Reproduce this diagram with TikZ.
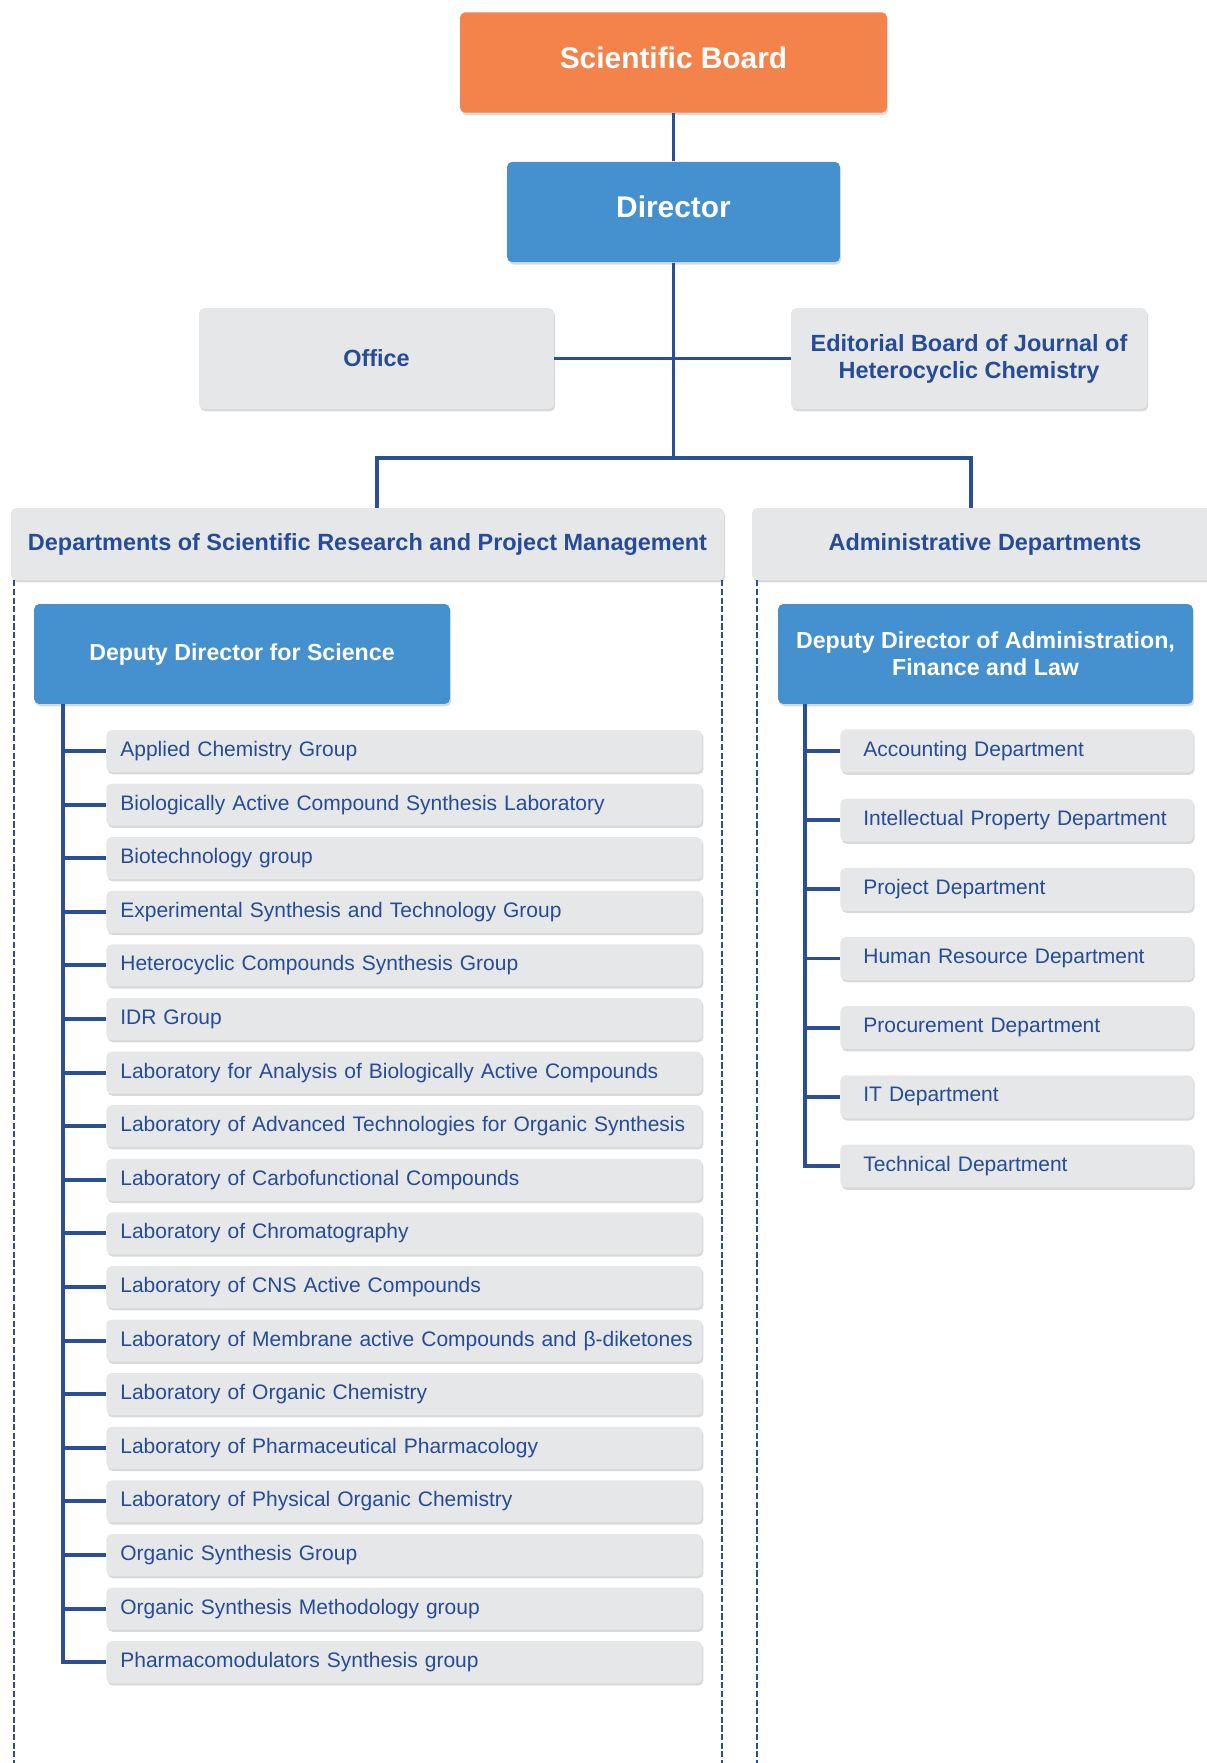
\documentclass[tikz,border=0pt]{standalone}
\usepackage{fontspec}
\setmainfont{Liberation Sans}
\usetikzlibrary{shadows}
\definecolor{boardorange}{HTML}{F3834A}
\definecolor{headblue}{HTML}{4590CE}
\definecolor{boxgray}{HTML}{E6E7E9}
\definecolor{navy}{HTML}{264C97}
\definecolor{linkblue}{HTML}{2A4E98}

\begin{document}
\begin{tikzpicture}[x=0.02cm,y=-0.02cm,
	box/.style={shape=rectangle,rounded corners=3pt,drop shadow={shadow xshift=0.7pt,shadow yshift=-1.3pt,opacity=0.3}},
	topbox/.style={box,text=white,font=\fontsize{17}{20}\selectfont\bfseries,minimum height=2.01cm,text depth=0.2cm},
	midbox/.style={box,fill=boxgray,text=navy,font=\fontsize{13.35}{15.4}\selectfont\bfseries,align=center,inner xsep=2pt},
	deputy/.style={box,fill=headblue,text=white,font=\fontsize{13.2}{15.4}\selectfont\bfseries,align=center,minimum height=2cm,inner xsep=2pt},
	sitem/.style={box,fill=boxgray,text=navy,font=\fontsize{11.95}{14}\selectfont,anchor=west,align=left,minimum height=0.84cm,inner xsep=0.28cm,text width=11.36cm},
	aitem/.style={sitem,minimum height=0.86cm,inner xsep=0.46cm,text width=6.14cm},
	link/.style={draw=linkblue,line width=2.2pt},
	colborder/.style={draw=linkblue,line width=1.3pt,dash pattern=on 3.5pt off 1.4pt}]

	\useasboundingbox (0,0) rectangle (1206,1763);

	\node[topbox,fill=boardorange,minimum width=8.54cm] (board) at (673.5,62.5) {Scientific Board};
	\node[topbox,fill=headblue,minimum width=6.66cm] (director) at (673.5,212) {Director};
	\node[midbox,minimum width=7.1cm,minimum height=2.02cm] (office) at (376.5,358.5) {Office};
	\node[midbox,minimum width=7.12cm,minimum height=2.02cm] (editorial) at (969,358.5) {Editorial Board of Journal of\\Heterocyclic Chemistry};
	\node[midbox,minimum width=14.26cm,minimum height=1.44cm] (research) at (367.5,544) {Departments of Scientific Research and Project Management};
	\node[midbox,minimum width=9.32cm,minimum height=1.44cm] (admin) at (985,544) {Administrative Departments};
	\node[deputy,minimum width=8.32cm] (scidep) at (242,654) {Deputy Director for Science};
	\node[deputy,minimum width=8.3cm] (admdep) at (985.5,654) {Deputy Director of Administration,\\Finance and Law};

	\foreach \t [count=\i] in {Applied Chemistry Group,
		Biologically Active Compound Synthesis Laboratory,
		Biotechnology group,
		Experimental Synthesis and Technology Group,
		Heterocyclic Compounds Synthesis Group,
		IDR Group,
		Laboratory for Analysis of Biologically Active Compounds,
		Laboratory of Advanced Technologies for Organic Synthesis,
		Laboratory of Carbofunctional Compounds,
		Laboratory of Chromatography,
		Laboratory of CNS Active Compounds,
		Laboratory of Membrane active Compounds and β-diketones,
		Laboratory of Organic Chemistry,
		Laboratory of Pharmaceutical Pharmacology,
		Laboratory of Physical Organic Chemistry,
		Organic Synthesis Group,
		Organic Synthesis Methodology group,
		Pharmacomodulators Synthesis group}
		\node[sitem] (s\i) at (106,697.4+53.6*\i) {\mbox{\t}};

	\foreach \t [count=\i] in {Accounting Department,
		Intellectual Property Department,
		Project Department,
		Human Resource Department,
		Procurement Department,
		IT Department,
		Technical Department}
		\node[aitem] (a\i) at (840,681.8+69.17*\i) {\mbox{\t}};

	\coordinate (fork) at (673.5,458);
	\coordinate (lfork) at (377,458);
	\coordinate (rfork) at (971,458);
	\coordinate (sroot) at (63,704);
	\coordinate (aroot) at (805,704);

	\path [link] (board) edge (director);
	\path [link] (office) edge (editorial);
	\draw [link] (director) -- (fork);
	\draw [link] (lfork |- research.north) -- (lfork) -- (rfork) -- (rfork |- admin.north);

	\draw [link] (sroot) |- (s18.west);
	\foreach \i in {1,...,17}
		\draw [link] (sroot |- s\i.west) -- (s\i.west);
	\draw [link] (aroot) |- (a7.west);
	\foreach \i in {1,...,6}
		\draw [link] (aroot |- a\i.west) -- (a\i.west);

	\draw [colborder] ([xshift=0.06cm]research.south west) -- ++(0,1183);
	\draw [colborder] ([xshift=-0.04cm]research.south east) -- ++(0,1183);
	\draw [colborder] ([xshift=0.1cm]admin.south west) -- ++(0,1183);
\end{tikzpicture}
\end{document}
